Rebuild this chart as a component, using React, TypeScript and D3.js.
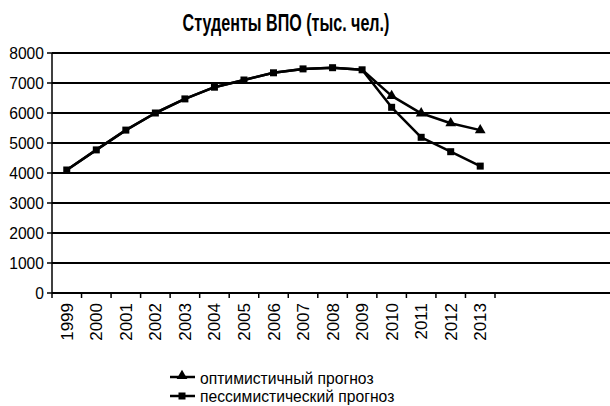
import React from 'react';
import * as d3 from 'd3';

// chart data
const years = ['1999', '2000', '2001', '2002', '2003', '2004', '2005', '2006', '2007', '2008', '2009', '2010', '2011', '2012', '2013'];
const optimistic = [4100, 4770, 5430, 6000, 6470, 6860, 7100, 7340, 7470, 7510, 7440, 6570, 5990, 5660, 5430];
const pessimistic = [4100, 4770, 5430, 6000, 6470, 6860, 7100, 7340, 7470, 7510, 7440, 6190, 5190, 4710, 4230];
const yTicks = [0, 1000, 2000, 3000, 4000, 5000, 6000, 7000, 8000];
const title = 'Студенты ВПО (тыс. чел.)';
const legendLabels = ['оптимистичный прогноз', 'пессимистический прогноз'];

const FONT = '"Liberation Sans", Arial, sans-serif';
const W = 610;
const H = 406;
const left = 52;
const axisRight = 495;
const plotRight = 610;
const top = 53;
const bottom = 293;

// narrow text: squeeze horizontally around the anchor point
const Narrow: React.FC<{
  x: number; y: number; sx: number; size: number; anchor?: string; bold?: boolean; children: React.ReactNode;
}> = ({ x, y, sx, size, anchor = 'start', bold = false, children }) => (
  <text
    transform={`translate(${x},${y}) scale(${sx},1)`}
    textAnchor={anchor}
    fontFamily={FONT}
    fontSize={size}
    fontWeight={bold ? 'bold' : 'normal'}
    fill="#000"
  >
    {children}
  </text>
);

const App: React.FC = () => {
  const x = d3.scaleBand<string>().domain(years).range([left, axisRight]);
  const y = d3.scaleLinear().domain([0, 8000]).range([bottom, top]);
  const cx = (i: number) => (x(years[i]) || 0) + x.bandwidth() / 2;

  const line = d3.line<number>()
    .x((_, i) => cx(i))
    .y((d) => y(d));

  const tri = d3.symbol().type(d3.symbolTriangle).size(50)() || '';
  const sq = (px: number, py: number, s = 7) => (
    <rect x={px - s / 2} y={py - s / 2} width={s} height={s} fill="#000" />
  );

  const tickXs = years.map((yr) => x(yr) || 0).concat([axisRight]);

  return (
    <svg width={W} height={H} style={{ position: 'absolute', left: 0, top: 0, background: '#fff' }}>
      <rect width={W} height={H} fill="#fff" />
      <Narrow x={286} y={31} sx={0.7} size={23} anchor="middle" bold>{title}</Narrow>

      {/* grid */}
      {yTicks.map((t) => (
        <g key={t}>
          <line x1={left} x2={plotRight} y1={y(t)} y2={y(t)} stroke="#000" strokeWidth={1.8} />
          <line x1={left - 5} x2={left} y1={y(t)} y2={y(t)} stroke="#000" strokeWidth={1.5} />
          <Narrow x={44} y={y(t) + 6} sx={0.92} size={17} anchor="end">{t}</Narrow>
        </g>
      ))}
      <line x1={left} x2={left} y1={top} y2={bottom} stroke="#000" strokeWidth={1.5} />

      {/* x axis */}
      {tickXs.map((tx, i) => (
        <line key={i} x1={tx} x2={tx} y1={bottom} y2={bottom + 5} stroke="#000" strokeWidth={1.5} />
      ))}
      {years.map((yr, i) => (
        <text
          key={yr}
          transform={`translate(${cx(i) + 6},${303}) rotate(-90)`}
          textAnchor="end"
          fontFamily={FONT}
          fontSize={17}
          fill="#000"
        >
          {yr}
        </text>
      ))}

      {/* series */}
      <path d={line(optimistic) || ''} fill="none" stroke="#000" strokeWidth={2.5} strokeLinejoin="round" />
      <path d={line(pessimistic) || ''} fill="none" stroke="#000" strokeWidth={2.5} strokeLinejoin="round" />
      {optimistic.map((v, i) => (
        v !== pessimistic[i] ? (
          <path key={'t' + i} d={tri} transform={`translate(${cx(i)},${y(v)})`} fill="#000" />
        ) : null
      ))}
      {pessimistic.map((v, i) => <g key={'s' + i}>{sq(cx(i), y(v))}</g>)}

      {/* legend */}
      <g>
        <line x1={170} x2={195} y1={377} y2={377} stroke="#000" strokeWidth={2.5} />
        <path d={tri} transform="translate(182,376)" fill="#000" />
        <Narrow x={200} y={384} sx={0.98} size={16}>{legendLabels[0]}</Narrow>
        <line x1={170} x2={195} y1={396} y2={396} stroke="#000" strokeWidth={2.5} />
        {sq(182, 396)}
        <Narrow x={200} y={402} sx={0.98} size={16}>{legendLabels[1]}</Narrow>
      </g>
    </svg>
  );
};

export default App;
